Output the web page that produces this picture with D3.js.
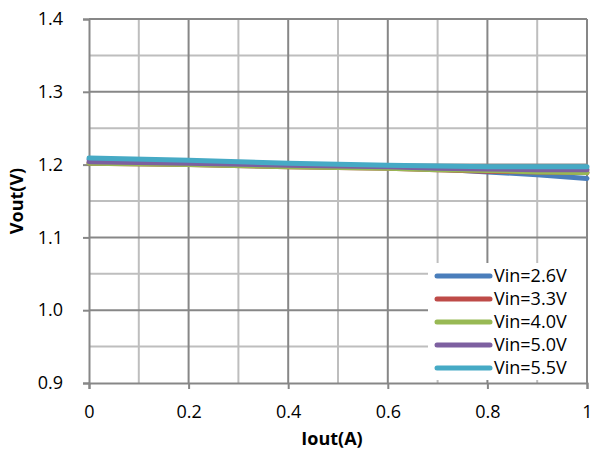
<!DOCTYPE html>
<html>
<head>
<meta charset="utf-8">
<script src="https://cdn.jsdelivr.net/npm/d3@7/dist/d3.min.js"></script>
<style>
  body { margin: 0; background: #fff; }
  svg { display: block; }
  text { font-family: "Open Sans", "Noto Sans", sans-serif; fill: #000; }
</style>
</head>
<body>
<svg id="chart" width="593" height="450"></svg>
<script>
const iout = [0, 0.2, 0.4, 0.6, 0.7, 0.8, 0.9, 1.0];
const seriesNames = ["Vin=2.6V", "Vin=3.3V", "Vin=4.0V", "Vin=5.0V", "Vin=5.5V"];
const vin26 = [1.207, 1.204, 1.200, 1.197, 1.194, 1.190, 1.186, 1.181];
const vin33 = [1.202, 1.200, 1.197, 1.195, 1.193, 1.191, 1.190, 1.189];
const vin40 = [1.202, 1.200, 1.197, 1.195, 1.193, 1.192, 1.190, 1.189];
const vin50 = [1.204, 1.202, 1.199, 1.197, 1.195, 1.194, 1.193, 1.193];
const vin55 = [1.209, 1.206, 1.202, 1.199, 1.198, 1.197, 1.197, 1.197];
const colors = ["#4A7EBB", "#BE4B48", "#98B954", "#7D60A0", "#46AAC5"];
const xTicks = [0, 0.2, 0.4, 0.6, 0.8, 1];
const yTicks = [0.9, 1.0, 1.1, 1.2, 1.3, 1.4];
const xMinor = [0.1, 0.3, 0.5, 0.7, 0.9];
const yMinor = [0.95, 1.05, 1.15, 1.25, 1.35];
const xTitle = "Iout(A)";
const yTitle = "Vout(V)";

const allSeries = [vin26, vin33, vin40, vin50, vin55];

const svg = d3.select("#chart");
const mLeft = 89, mRight = 587, mTop = 19, mBottom = 383;
const x = d3.scaleLinear().domain([0, 1]).range([mLeft, mRight]);
const y = d3.scaleLinear().domain([0.9, 1.4]).range([mBottom, mTop]);
const fs = "18px";

// minor gridlines
svg.append("g").selectAll("line").data(xMinor).join("line")
  .attr("x1", d => x(d)).attr("x2", d => x(d)).attr("y1", mTop).attr("y2", mBottom)
  .attr("stroke", "#BEBEBE").attr("stroke-width", 2);
svg.append("g").selectAll("line").data(yMinor).join("line")
  .attr("x1", mLeft).attr("x2", mRight).attr("y1", d => y(d)).attr("y2", d => y(d))
  .attr("stroke", "#BEBEBE").attr("stroke-width", 2);
// major gridlines
svg.append("g").selectAll("line").data(xTicks.slice(1)).join("line")
  .attr("x1", d => x(d)).attr("x2", d => x(d)).attr("y1", mTop).attr("y2", mBottom)
  .attr("stroke", "#878787").attr("stroke-width", 2);
svg.append("g").selectAll("line").data(yTicks.slice(1)).join("line")
  .attr("x1", mLeft).attr("x2", mRight).attr("y1", d => y(d)).attr("y2", d => y(d))
  .attr("stroke", "#878787").attr("stroke-width", 2);

// axes
const xAxis = d3.axisBottom(x).tickValues(xTicks).tickFormat(d => d === 0 ? "0" : d === 1 ? "1" : d3.format(".1f")(d)).tickSize(6).tickPadding(16);
const gx = svg.append("g").attr("transform", `translate(0,${mBottom})`).call(xAxis);
gx.select(".domain").attr("stroke", "#878787").attr("stroke-width", 2);
gx.selectAll(".tick line").attr("stroke", "#878787").attr("stroke-width", 2);
gx.selectAll(".tick text").style("font-size", fs).style("font-family", "'Open Sans', sans-serif");

const yAxis = d3.axisLeft(y).tickValues(yTicks).tickFormat(d3.format(".1f")).tickSize(6).tickPadding(20);
const gy = svg.append("g").attr("transform", `translate(${mLeft},0)`).call(yAxis);
gy.select(".domain").attr("stroke", "#878787").attr("stroke-width", 2);
gy.selectAll(".tick line").attr("stroke", "#878787").attr("stroke-width", 2);
gy.selectAll(".tick text").style("font-size", fs).style("font-family", "'Open Sans', sans-serif");

// lines
const line = d3.line().x((d, i) => x(iout[i])).y(d => y(d));
svg.append("g").selectAll("path").data(allSeries).join("path")
  .attr("d", d => line(d))
  .attr("fill", "none")
  .attr("stroke", (d, i) => colors[i])
  .attr("stroke-width", 5)
  .attr("stroke-linecap", "round");

// legend
const lg = svg.append("g");
lg.append("rect").attr("x", 428).attr("y", 263).attr("width", 158).attr("height", 117).attr("fill", "#fff");
const rowY = i => 276 + i * 23;
lg.selectAll("line").data(seriesNames).join("line")
  .attr("x1", 437).attr("x2", 490).attr("y1", (d, i) => rowY(i)).attr("y2", (d, i) => rowY(i))
  .attr("stroke", (d, i) => colors[i]).attr("stroke-width", 5).attr("stroke-linecap", "round");
lg.selectAll("text").data(seriesNames).join("text")
  .attr("x", 494).attr("y", (d, i) => rowY(i)).attr("dy", "0.36em")
  .style("font-size", fs).text(d => d);

// titles
svg.append("text").attr("x", 332).attr("y", 445).attr("text-anchor", "middle")
  .style("font-size", fs).style("font-weight", "bold").text(xTitle);
svg.append("text").attr("transform", `translate(23,${(mTop + mBottom) / 2}) rotate(-90)`).attr("text-anchor", "middle")
  .style("font-size", fs).style("font-weight", "bold").text(yTitle);
</script>
</body>
</html>
